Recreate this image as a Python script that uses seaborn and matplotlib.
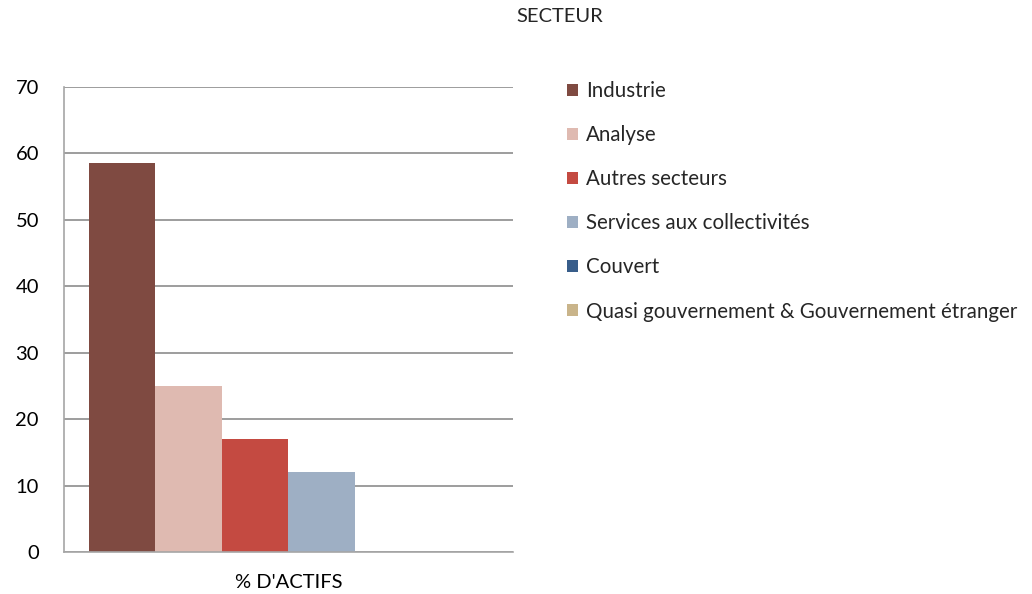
import pandas as pd
import matplotlib.pyplot as plt
import seaborn as sns
from matplotlib.patches import Patch

# data
sectors = ["Industrie", "Analyse", "Autres secteurs", "Services aux collectivités",
           "Couvert", "Quasi gouvernement & Gouvernement étranger"]
values = [58.5, 25.0, 17.0, 12.0, 0.0, 0.0]
category = "% D'ACTIFS"
colors = ["#7F4A41", "#DFBAB1", "#C44A41", "#9EAFC4", "#385D8A", "#C9B48A"]

df = pd.DataFrame({"cat": [category] * len(sectors), "Secteur": sectors, "val": values})

sns.set_style("white")
plt.rcParams["font.family"] = ["Lato", "DejaVu Sans"]

fig = plt.figure(figsize=(10.32, 5.94), dpi=100)
ax = fig.add_axes([0.062, 0.0707, 0.435, 0.7828])

sns.barplot(data=df, x="cat", y="val", hue="Secteur", hue_order=sectors,
            palette=colors, width=0.89, saturation=1, legend=False,
            linewidth=0, ax=ax)

ax.set_ylim(0, 70)
ax.set_yticks(range(0, 71, 10))
ax.yaxis.grid(True, color="#8C8C8C", linewidth=1.2)
ax.set_axisbelow(True)
for s in ["top", "right"]:
    ax.spines[s].set_visible(False)
for s in ["left", "bottom"]:
    ax.spines[s].set_color("#A6A6A6")
    ax.spines[s].set_linewidth(1.2)
ax.tick_params(axis="both", length=0, labelsize=14.5, colors="black")
ax.tick_params(axis="y", pad=18)
ax.tick_params(axis="x", pad=16)
ax.set_xlabel("")
ax.set_ylabel("")

fig.text(560 / 1032, 1 - 17 / 594, "SECTEUR", ha="center", va="center", fontsize=14.5)

handles = [Patch(facecolor=c, edgecolor="none") for c in colors]
fig.legend(handles, sectors, loc="upper left", bbox_to_anchor=(0.541, 0.877),
           frameon=False, fontsize=14.8, labelspacing=1.17,
           handlelength=0.55, handleheight=0.55, handletextpad=0.4, borderaxespad=0)

fig.savefig("out.png", dpi=100)
